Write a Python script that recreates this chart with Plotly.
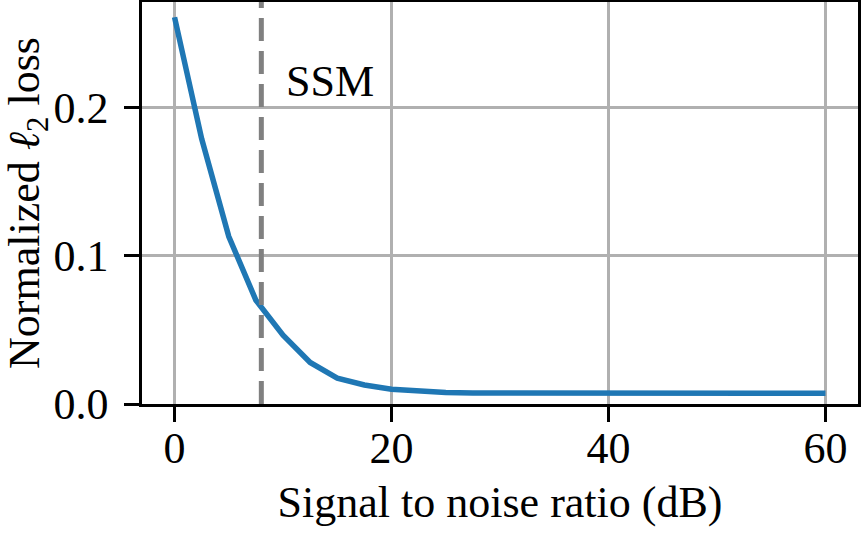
import plotly.graph_objects as go

snr_db = [0, 2.5, 5, 7.5, 10, 12.5, 15, 17.5, 20, 22.5, 25, 27.5, 30,
          32.5, 35, 37.5, 40, 42.5, 45, 47.5, 50, 52.5, 55, 57.5, 60]
loss = [0.261, 0.179, 0.113, 0.070, 0.0465, 0.028, 0.0175, 0.0128, 0.0100,
        0.0085, 0.0078, 0.0075, 0.0074, 0.0073, 0.0073, 0.0072, 0.0072,
        0.0072, 0.0072, 0.0072, 0.0072, 0.0072, 0.0072, 0.0072, 0.0072]
ssm_snr = 8
ssm_label = "SSM"
x_ticks = [0, 20, 40, 60]
y_ticks = [0.0, 0.1, 0.2]

FONT = "Liberation Serif"
FS = 44

fig = go.Figure()
fig.add_trace(go.Scatter(x=snr_db, y=loss, mode="lines",
                         line=dict(color="#1f77b4", width=5.5),
                         showlegend=False, hoverinfo="skip"))
fig.add_vline(x=ssm_snr, line=dict(color="#808080", width=5, dash="23px,10px"))
fig.add_annotation(x=10.1, y=0.2175, text=ssm_label, showarrow=False,
                   xanchor="left", yanchor="middle",
                   font=dict(family=FONT, size=FS, color="black"))

axis_common = dict(showline=True, linecolor="black", linewidth=2.5, mirror=True,
                   ticks="outside", ticklen=15, tickwidth=2.5, tickcolor="black",
                   showgrid=True, gridcolor="#b0b0b0", gridwidth=2.5,
                   zeroline=False, automargin=False,
                   tickfont=dict(family=FONT, size=FS, color="black"))

fig.update_xaxes(range=[-3, 63], tickvals=x_ticks, ticktext=[str(v) for v in x_ticks],
                 ticklabelstandoff=-12,
                 title=dict(text="Signal to noise ratio (dB)", standoff=15,
                            font=dict(family=FONT, size=FS, color="black")),
                 **axis_common)
fig.update_yaxes(range=[0, 0.2713], tickvals=y_ticks, ticktext=[f"{v:.1f}" for v in y_ticks],
                 ticklabelstandoff=7,
                 title=dict(text="Normalized <i>ℓ</i><sub>2</sub> loss", standoff=12,
                            font=dict(family=FONT, size=FS, color="black")),
                 **axis_common)

fig.update_layout(width=861, height=533, margin=dict(l=142, r=3, t=2, b=129),
                  font=dict(family=FONT, size=FS, color="black"),
                  plot_bgcolor="white", paper_bgcolor="white")

fig.write_html("out.html")
